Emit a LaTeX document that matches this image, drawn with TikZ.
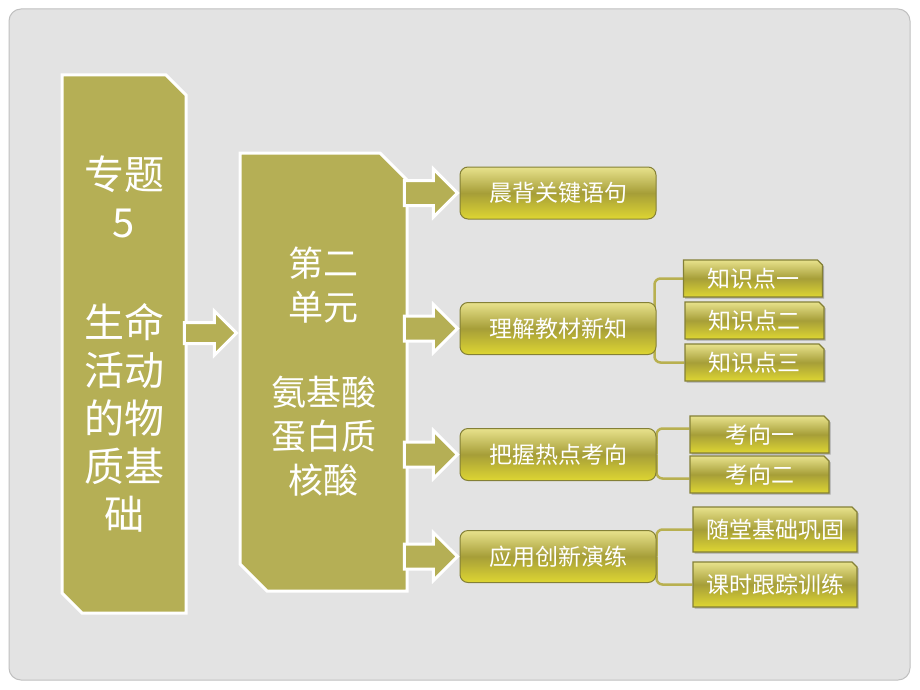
\documentclass[tikz,border=0pt]{standalone}
\usepackage{fontspec}
\setmainfont{Noto Sans CJK SC}
\usetikzlibrary{shapes.misc,shapes.arrows,shadows,positioning,calc}
\pgfdeclarelayer{back}
\pgfsetlayers{back,main}

\definecolor{olivebox}{RGB}{181,175,85}
\definecolor{pagegray}{RGB}{227,227,227}
\definecolor{pageline}{RGB}{192,192,192}
\definecolor{bracketcol}{RGB}{184,176,80}
\definecolor{gradtop}{RGB}{232,226,140}
\definecolor{gradmid}{RGB}{166,158,56}
\definecolor{gradbot}{RGB}{222,214,50}
\definecolor{rimdark}{RGB}{132,128,54}

\tikzset{
  bigbox/.style={
    chamfered rectangle, chamfered rectangle corners={north east,south west},
    chamfered rectangle xsep=10pt, chamfered rectangle ysep=10pt,
    fill=olivebox, draw=white, line width=3pt, text=white, align=center, inner sep=0pt
  },
  blockarrow/.style={
    single arrow, anchor=tip, fill=olivebox, draw=white, line width=3pt,
    inner xsep=0pt, inner ysep=11pt, single arrow head extend=11.5pt
  },
  stagebox/.style={
    rounded corners=8pt, draw=rimdark, line width=1pt,
    top color=gradtop, bottom color=gradbot, middle color=gradmid,
    minimum width=196pt, minimum height=52pt, text=white,
    font=\fontsize{23}{26}\selectfont
  },
  pointbox/.style={
    chamfered rectangle, chamfered rectangle corners=north east,
    chamfered rectangle xsep=2.5pt, chamfered rectangle ysep=2.5pt, inner sep=0pt,
    draw=rimdark, line width=1.2pt,
    top color=gradtop, bottom color=gradbot, middle color=gradmid,
    drop shadow={shadow xshift=1.5pt, shadow yshift=-1.5pt, fill=black, opacity=0.25},
    text=white, font=\fontsize{23}{26}\selectfont
  },
  bracketline/.style={draw=bracketcol, line width=2.5pt, rounded corners=6pt}
}

\begin{document}
\begin{tikzpicture}[x=1pt, y=-1pt]

    \useasboundingbox (0,0) rectangle (920,690);

    % the two big blocks
    \node[bigbox, minimum width=124pt, minimum height=538pt,
      font=\fontsize{40}{48}\selectfont] (topic) at (124,344)
      {专题\\5\\[52pt]生命\\活动\\的物\\质基\\础};

    \node[bigbox, minimum width=167pt, minimum height=438pt,
      chamfered rectangle xsep=13.5pt, chamfered rectangle ysep=13.5pt,
      font=\fontsize{35}{44}\selectfont] (unit) at (323.5,372)
      {第二\\单元\\[41pt]氨基酸\\蛋白质\\核酸};

    % second level
    \node[stagebox] (s1) at (558,193) {晨背关键语句};
    \node[stagebox] (s2) at (558,328.5) {理解教材新知};
    \node[stagebox] (s3) at (558,454.5) {把握热点考向};
    \node[stagebox] (s4) at (558,556.5) {应用创新演练};

    % leaves
    \node[pointbox, minimum width=139pt, minimum height=37pt] (k1) at (753,278.5) {知识点一};
    \node[pointbox, minimum width=139pt, minimum height=37pt] (k2) at (754.5,320.5) {知识点二};
    \node[pointbox, minimum width=139pt, minimum height=37pt] (k3) at (754.5,362.5) {知识点三};

    \node[pointbox, minimum width=139pt, minimum height=37pt] (q1) at (759.5,434.5) {考向一};
    \node[pointbox, minimum width=139pt, minimum height=37pt] (q2) at (759.5,474.5) {考向二};

    \node[pointbox, minimum width=164pt, minimum height=45pt] (p1) at (775,529.5) {随堂基础巩固};
    \node[pointbox, minimum width=164pt, minimum height=45pt] (p2) at (775,584.5) {课时跟踪训练};

    % block arrows
    \node[blockarrow, minimum height=52pt, inner ysep=9pt]
      (a0) at ([yshift=11pt]unit.west |- topic.center) {};
    \foreach \s in {s1,s2,s3,s4}
      \node[blockarrow, minimum height=53pt] (a\s) at (\s.west) {};

    \begin{pgfonlayer}{back}
      \fill[white] (0,0) rectangle (920,690);
      \draw[fill=pagegray, draw=pageline, line width=1pt, rounded corners=12pt]
        (9,9) rectangle (910,680);
      \draw[bracketline] ([xshift=-2pt]s2.east) |- (k1.west);
      \draw[bracketline] ([xshift=-2pt]s2.east) |- (k3.west);
      \draw[bracketline] (s3.east) |- ([yshift=6pt]q1.west);
      \draw[bracketline] (s3.east) |- ([yshift=-4pt]q2.west);
      \draw[bracketline] (s4.east) |- (p1.west);
      \draw[bracketline] (s4.east) |- (p2.west);
    \end{pgfonlayer}

  \end{tikzpicture}
\end{document}
